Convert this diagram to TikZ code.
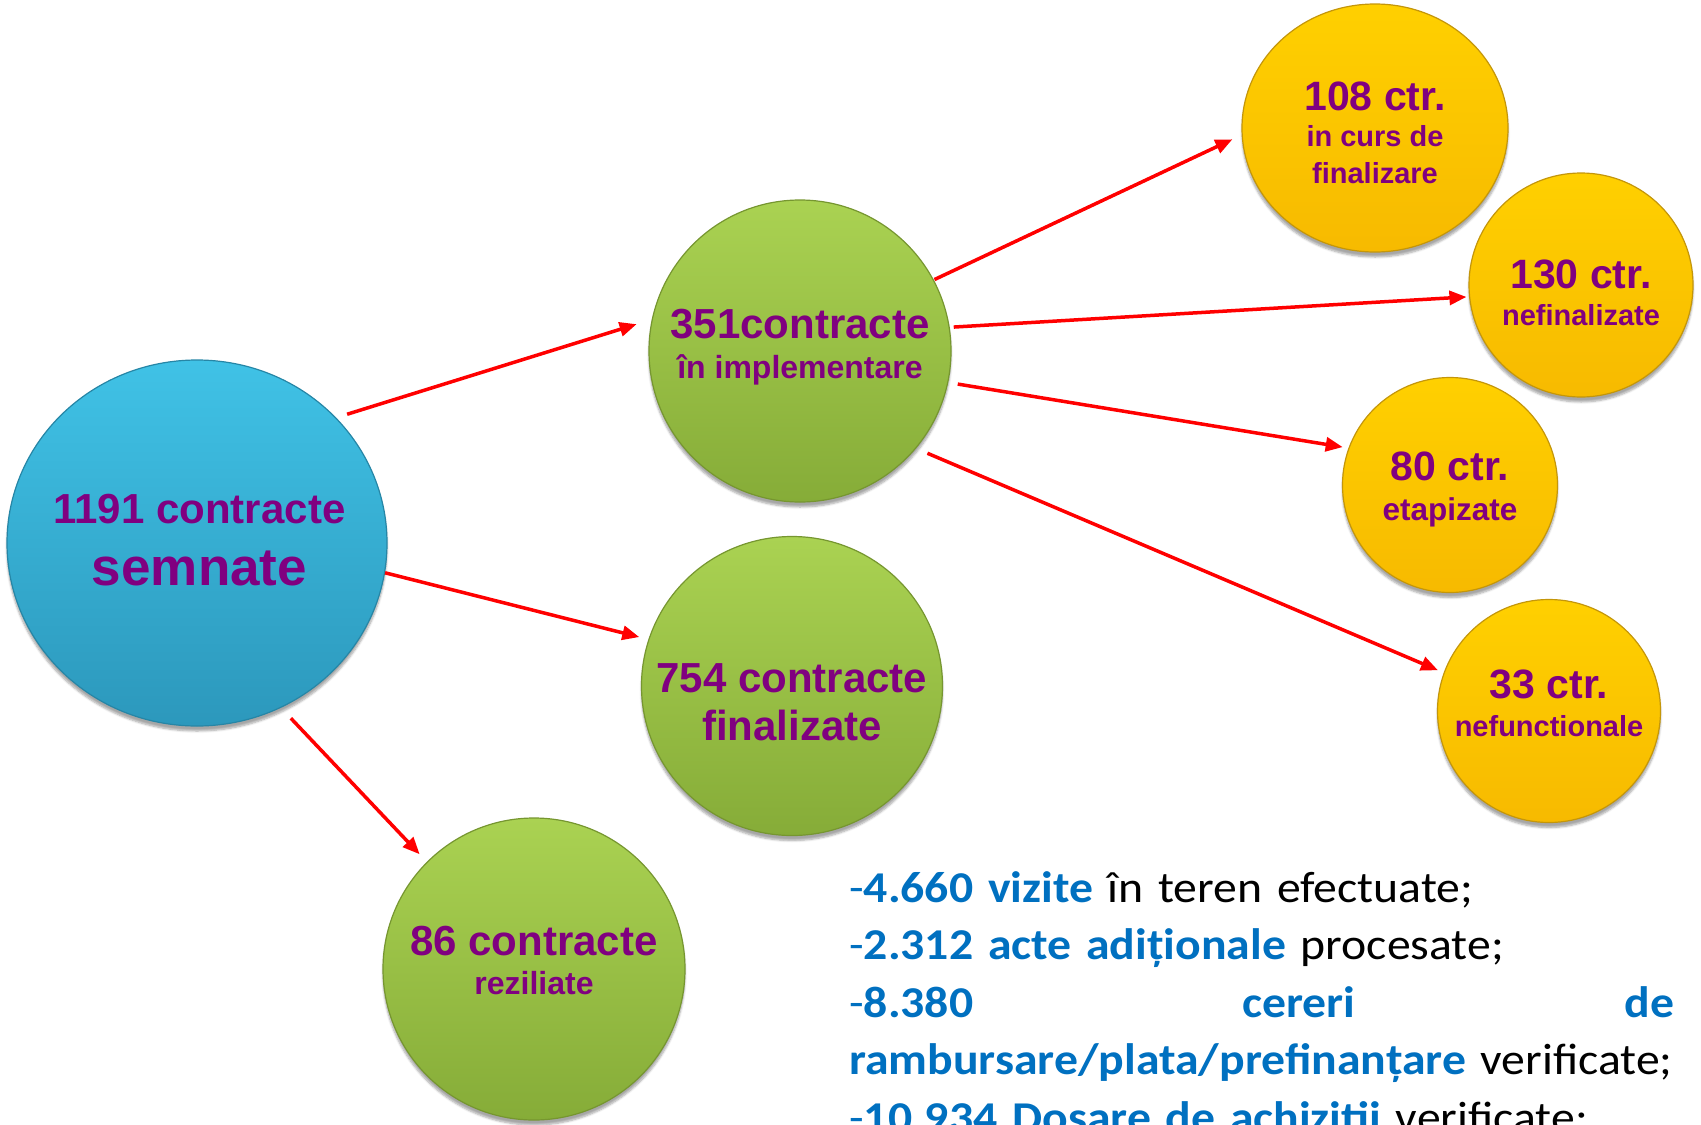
\documentclass[tikz,border=0pt]{standalone}
\usepackage{fontspec}
\setmainfont{Liberation Sans}
\newfontfamily\calib[FakeStretch=1.085]{Carlito}
\usetikzlibrary{arrows.meta,shapes.geometric,shadows.blur}
\definecolor{txtpurple}{RGB}{128,0,128}
\definecolor{txtblue}{RGB}{0,112,192}
\definecolor{arrred}{RGB}{255,0,0}
\definecolor{blueT}{RGB}{64,194,230}
\definecolor{blueB}{RGB}{44,152,188}
\definecolor{blueR}{RGB}{38,134,166}
\definecolor{greenT}{RGB}{170,210,82}
\definecolor{greenB}{RGB}{134,172,56}
\definecolor{greenR}{RGB}{118,150,48}
\definecolor{yelT}{RGB}{255,208,0}
\definecolor{yelB}{RGB}{247,186,0}
\definecolor{yelR}{RGB}{196,150,10}
\def\bubraise{0pt}
\newcommand{\zl}[1]{\makebox[0pt][c]{\raisebox{\bubraise}[0pt][0pt]{#1}}}
\begin{document}
\begin{tikzpicture}[x=1pt,y=-1pt,
  bubble/.style={ellipse, inner sep=0pt, align=center, text=txtpurple,
    blur shadow={shadow xshift=0pt, shadow yshift=-5pt, shadow opacity=35, shadow blur steps=6}},
  bluebub/.style={bubble, top color=blueT, bottom color=blueB, draw=blueR, line width=1.2pt},
  greenbub/.style={bubble, top color=greenT, bottom color=greenB, draw=greenR, line width=1.2pt},
  yelbub/.style={bubble, top color=yelT, bottom color=yelB, draw=yelR, line width=1.2pt},
  link/.style={draw=arrred, line width=3.5pt, -{Triangle[length=17pt,width=14pt]}},
  fs/.style n args={3}{font=\bfseries\fontsize{#1}{#2}\selectfont\def\bubraise{#3}}
]
\useasboundingbox (0,0) rectangle (1701,1125);
\clip (0,0) rectangle (1701,1125);

\node[bluebub, minimum width=380pt, minimum height=366pt, fs={42}{62}{-11pt}] (semn) at (197,543)
  {\zl{\hspace{5pt}1191 contracte}\\\zl{\hspace{5pt}\fontsize{53}{62}\selectfont semnate}};
\node[greenbub, minimum width=302pt, minimum height=302pt, fs={42}{40}{-7pt}] (impl) at (800,351)
  {\zl{351contracte}\\\zl{\fontsize{32}{40}\selectfont în implementare}};
\node[greenbub, minimum width=301pt, minimum height=299pt, fs={42}{48}{-30pt}] (fin) at (792,686)
  {\zl{754 contracte}\\\zl{finalizate}};
\node[greenbub, minimum width=302pt, minimum height=302pt, fs={42}{39}{-5.5pt}] (rez) at (534,969)
  {\zl{86 contracte}\\\zl{\fontsize{32}{39}\selectfont reziliate}};
\node[yelbub, minimum width=266pt, minimum height=248pt, fs={41}{36.5}{-18.5pt}] (curs) at (1375,128)
  {\zl{108 ctr.}\\\zl{\fontsize{29}{36.5}\selectfont in curs de}\\\zl{\fontsize{29}{36.5}\selectfont finalizare}};
\node[yelbub, minimum width=224pt, minimum height=224pt, fs={41}{37}{-21.5pt}] (nefin) at (1581,285)
  {\zl{130 ctr.}\\\zl{\fontsize{29}{37}\selectfont nefinalizate}};
\node[yelbub, minimum width=215pt, minimum height=215pt, fs={41}{40}{-15pt}] (etap) at (1450,485)
  {\zl{80 ctr.}\\\zl{\fontsize{31.5}{40}\selectfont etapizate}};
\node[yelbub, minimum width=223pt, minimum height=223pt, fs={41}{38}{-6pt}] (nefunc) at (1549,711)
  {\zl{33 ctr.}\\\zl{\fontsize{29}{38}\selectfont nefunctionale}};

\draw[link, shorten <=11.4pt, shorten >=15.8pt] (semn.42.3) -- (impl.168.3);
\draw[link, shorten <=0pt, shorten >=9.4pt] (semn.-9.2) -- (fin.162.3);
\draw[link, shorten <=14.4pt, shorten >=10.4pt] (semn.-63.2) -- (rez.135.1);
\draw[link, shorten <=0.7pt, shorten >=10.2pt] (impl.28.8) -- (curs.183.3);
\draw[link, shorten <=4pt, shorten >=2.6pt] (impl.9.45) -- (nefin.186.1);
\draw[link, shorten <=9.6pt, shorten >=5.8pt] (impl.-12.4) -- (etap.160.4);
\draw[link, shorten <=12.3pt, shorten >=6.2pt] (impl.-40.6) -- (nefunc.160.8);

\node[anchor=base west, inner sep=0pt, text width=825pt, align=left,
      font=\calib\fontsize{44}{57.5}\selectfont] (stats) at (849,902) {%
\textcolor{txtblue}{-\textbf{4.660 vizite}} în teren efectuate;\\
\textcolor{txtblue}{-\textbf{2.312 acte adiționale}} procesate;\\
\textcolor{txtblue}{-\textbf{8.380}\hfill\textbf{cereri}\hfill\textbf{de}}\\
\textcolor{txtblue}{\textbf{rambursare/plata/prefinanțare}} verificate;\\
\textcolor{txtblue}{-\textbf{10.934 Dosare de achizitii}} verificate;};
\end{tikzpicture}
\end{document}
